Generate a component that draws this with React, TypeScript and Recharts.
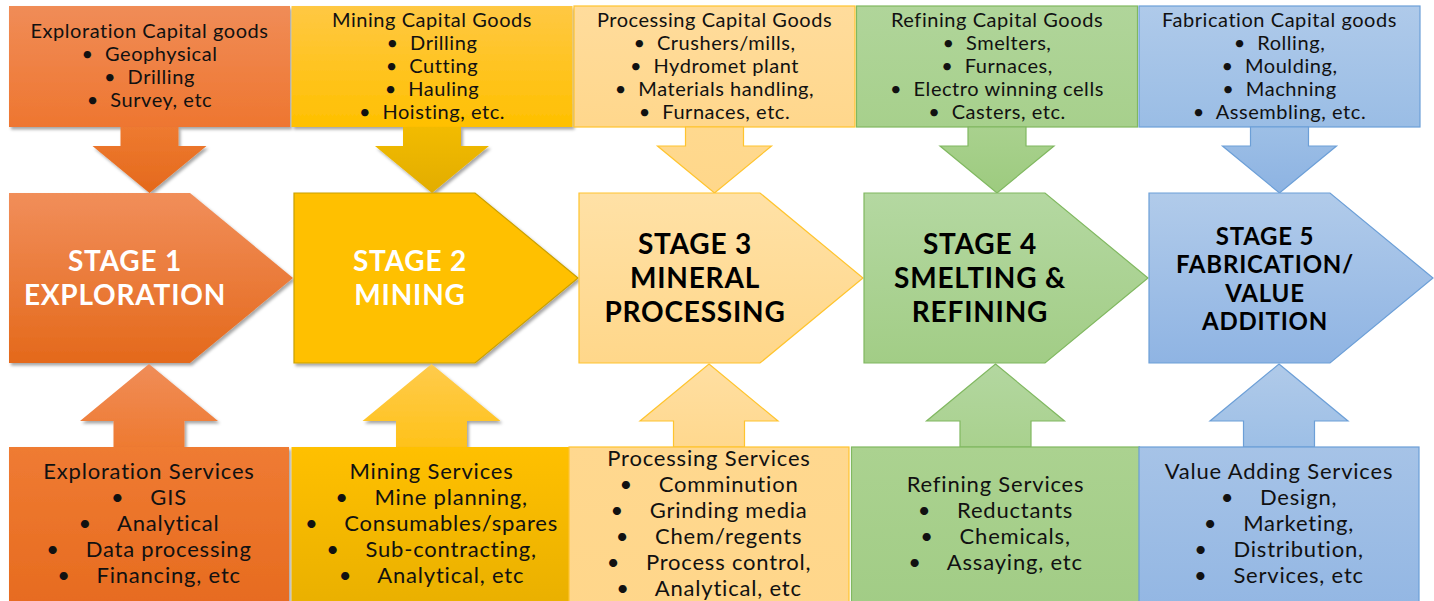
import React from 'react'
import { BarChart, Bar, XAxis, YAxis } from 'recharts'

const stages = ['Stage 1', 'Stage 2', 'Stage 3', 'Stage 4', 'Stage 5']
const stageLabels = [
  ['STAGE 1', 'EXPLORATION'],
  ['STAGE 2', 'MINING'],
  ['STAGE 3', 'MINERAL', 'PROCESSING'],
  ['STAGE 4', 'SMELTING &', 'REFINING'],
  ['STAGE 5', 'FABRICATION/', 'VALUE', 'ADDITION'],
]
const capitalTitles = [
  'Exploration Capital goods',
  'Mining Capital Goods',
  'Processing Capital Goods',
  'Refining Capital Goods',
  'Fabrication Capital goods',
]
const capitalItems = [
  ['Geophysical', 'Drilling', 'Survey, etc'],
  ['Drilling', 'Cutting', 'Hauling', 'Hoisting, etc.'],
  ['Crushers/mills,', 'Hydromet plant', 'Materials handling,', 'Furnaces, etc.'],
  ['Smelters,', 'Furnaces,', 'Electro winning cells', 'Casters, etc.'],
  ['Rolling,', 'Moulding,', 'Machning', 'Assembling, etc.'],
]
const serviceTitles = [
  'Exploration Services',
  'Mining Services',
  'Processing Services',
  'Refining Services',
  'Value Adding Services',
]
const serviceItems = [
  ['GIS', 'Analytical', 'Data processing', 'Financing, etc'],
  ['Mine planning,', 'Consumables/spares', 'Sub-contracting,', 'Analytical, etc'],
  ['Comminution', 'Grinding media', 'Chem/regents', 'Process control,', 'Analytical, etc'],
  ['Reductants', 'Chemicals,', 'Assaying, etc'],
  ['Design,', 'Marketing,', 'Distribution,', 'Services, etc'],
]

const data = stages.map((stage, i) => ({
  stage,
  value: 1,
  label: stageLabels[i],
  capTitle: capitalTitles[i],
  capItems: capitalItems[i],
  svcTitle: serviceTitles[i],
  svcItems: serviceItems[i],
}))

// [topBox, downArrow, pentagon, upArrow, bottomBox] gradients, top -> bottom
const THEME = [
  {
    fills: [['#F08C57', '#EE7630'], ['#EE7A30', '#E4691C'], ['#F18E5A', '#E4691B'], ['#F08D58', '#EE7A31'], ['#EF7B33', '#E66A1E']],
    strokes: ['none', 'none', 'none', 'none', 'none'], shadow: true, stageText: '#ffffff',
  },
  {
    fills: [['#FFC843', '#FFC000'], ['#F2BB00', '#E2AD00'], ['#FFC000', '#FFC000'], ['#FFCB4C', '#FFC21A'], ['#FFC000', '#E8AF00']],
    strokes: ['none', 'none', '#C9A000', 'none', 'none'], shadow: true, stageText: '#ffffff',
  },
  {
    fills: [['#FFDC9C', '#FFD78C'], ['#FFD98F', '#FFD78A'], ['#FFE1A6', '#FFD78A'], ['#FFDFA2', '#FFD88E'], ['#FFD88F', '#FFD68A']],
    strokes: ['#FFC42E', '#FFC42E', '#FFC42E', '#FFC42E', '#FFC42E'], shadow: false, stageText: '#000000',
  },
  {
    fills: [['#B0D59A', '#A7D08C'], ['#A9D18E', '#9DCB7F'], ['#B4D8A1', '#A2CD86'], ['#B3D7A0', '#A9D18E'], ['#ABD290', '#A1CC85']],
    strokes: ['#80B860', '#80B860', '#80B860', '#80B860', '#80B860'], shadow: false, stageText: '#000000',
  },
  {
    fills: [['#AFCAEA', '#9ABDE5'], ['#9DBFE6', '#8DB3E2'], ['#B1CBEA', '#8FB4E3'], ['#B0CAE9', '#9DBFE6'], ['#A6C3E7', '#92B6E3']],
    strokes: ['#6C9FD7', '#6C9FD7', '#6C9FD7', '#6C9FD7', '#6C9FD7'], shadow: false, stageText: '#000000',
  },
]

const FONT = 'Lato, "DejaVu Sans", sans-serif'
const NB = '\u00A0'

function StageColumn(props: any) {
  const { x, index, payload } = props
  const i = index
  const t = THEME[i]
  const gid = (k: number) => `g-${i}-${k}`
  const filter = t.shadow ? `url(#sh-${i})` : undefined
  const paint = (k: number) => ({
    fill: `url(#${gid(k)})`,
    stroke: t.strokes[k],
    strokeWidth: t.strokes[k] === 'none' ? 0 : 1.2,
    filter,
  })

  // boxes drift slightly left of the stage band
  const boxL = x - 2.5 * i
  const boxW = 281
  const topCx = boxL + boxW / 2
  const botL = x - 2.5 * i - (i === 2 || i === 3 ? 5 : 0)
  const botW = i === 3 ? 288 : 280
  const botCx = botL + botW / 2

  const capLines = [payload.capTitle, ...payload.capItems.map((s: string) => `•${NB}${NB}${s}`)]
  const svcLines = [payload.svcTitle, ...payload.svcItems.map((s: string) => `•${NB}${NB}${NB}${NB}${s}`)]
  const lbl: string[] = payload.label
  const big = lbl.length > 3
  const lblSize = big ? 24 : 28
  const lblGap = big ? 28.5 : 34

  const down = `M${topCx - 29},127 H${topCx + 29} V146 H${topCx + 57} L${topCx},193 L${topCx - 57},146 H${topCx - 29} Z`
  const up = `M${botCx},364 L${botCx + 69},421 H${botCx + 35.5} V447 H${botCx - 35.5} V421 H${botCx - 69} Z`
  const pent = `M${x},193 H${x + 181} L${x + 284},278 L${x + 181},363 H${x} Z`

  return (
    <g>
      <defs>
        {t.fills.map((f, k) => (
          <linearGradient key={k} id={gid(k)} x1="0" y1="0" x2="0" y2="1">
            <stop offset="0%" stopColor={f[0]} />
            <stop offset="100%" stopColor={f[1]} />
          </linearGradient>
        ))}
        <filter id={`sh-${i}`} x="-10%" y="-10%" width="130%" height="130%">
          <feDropShadow dx="2" dy="2.5" stdDeviation="1.8" floodColor="#000" floodOpacity="0.35" />
        </filter>
      </defs>

      <rect x={boxL} y={6} width={boxW} height={121} {...paint(0)} />
      <path d={down} {...paint(1)} />
      <path d={pent} {...paint(2)} />
      <path d={up} {...paint(3)} />
      <rect x={botL} y={447} width={botW} height={170} {...paint(4)} />

      {capLines.map((s, k) => (
        <text key={`c${k}`} x={topCx} y={72.5 + (k - (capLines.length - 1) / 2) * 23} textAnchor="middle"
          fontFamily={FONT} fontSize={20} letterSpacing={0.55} fill="#111">{s}</text>
      ))}
      {lbl.map((s, k) => (
        <text key={`l${k}`} x={x + 116} y={287.5 + (k - (lbl.length - 1) / 2) * lblGap} textAnchor="middle"
          fontFamily={FONT} fontWeight={700} fontSize={lblSize} letterSpacing={0.8} fill={t.stageText}>{s}</text>
      ))}
      {svcLines.map((s, k) => (
        <text key={`s${k}`} x={botCx} y={531 + (k - (svcLines.length - 1) / 2) * 26} textAnchor="middle"
          fontFamily={FONT} fontSize={22} letterSpacing={0.8} fill="#111">{s}</text>
      ))}
    </g>
  )
}

export default function App() {
  return (
    <div style={{ position: 'absolute', left: 0, top: 0, width: 1434, height: 601, background: '#fff' }}>
      <BarChart width={1434} height={601} data={data} margin={{ top: 0, right: 0, bottom: 0, left: 0 }} barCategoryGap={0}>
        <XAxis dataKey="stage" hide padding={{ left: 9, right: 0 }} />
        <YAxis hide domain={[0, 1]} />
        <Bar dataKey="value" isAnimationActive={false} shape={StageColumn} />
      </BarChart>
    </div>
  )
}
